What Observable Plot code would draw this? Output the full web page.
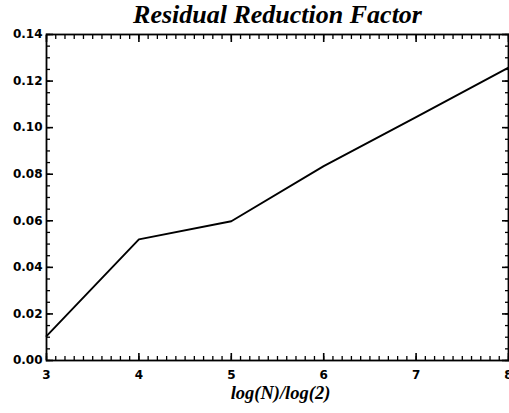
<!DOCTYPE html>
<html>
<head>
<meta charset="utf-8">
<script src="https://cdn.jsdelivr.net/npm/d3@7"></script>
<script src="https://cdn.jsdelivr.net/npm/@observablehq/plot@0.6"></script>
<style>
  html, body { margin: 0; padding: 0; background: #fff; }
</style>
</head>
<body>
<div id="chart"></div>
<script>
const logN = [3, 4, 5, 6, 7, 8];
const factor = [0.0105, 0.0520, 0.0598, 0.0835, 0.1045, 0.1258];
const xMajor = [3, 4, 5, 6, 7, 8];
const yMajor = [0, 0.02, 0.04, 0.06, 0.08, 0.10, 0.12, 0.14];
const xMinor = d3.range(3, 8.0001, 0.1).map(v => +v.toFixed(2));
const yMinor = d3.range(0, 0.14001, 0.005).map(v => +v.toFixed(3));
const title = "Residual Reduction Factor";
const xLabel = "log(N)/log(2)";

const data = logN.map((x, i) => ({x, y: factor[i]}));
const blank = () => "";

const minorLen = 4, majorLen = 7;

const chart = Plot.plot({
  width: 509,
  height: 413,
  marginLeft: 46,
  marginRight: 1,
  marginTop: 34,
  marginBottom: 53,
  style: {fontFamily: "DejaVu Sans", fontSize: "12px", fontWeight: "bold", color: "#000", background: "#fff"},
  x: {domain: [3, 8]},
  y: {domain: [0, 0.14]},
  marks: [
    Plot.frame({stroke: "#000", strokeWidth: 1.8}),
    // minor ticks (inward)
    Plot.axisX(xMinor, {anchor: "bottom", tickSize: minorLen, dy: -minorLen, tickFormat: blank, label: null, strokeWidth: 1.3}),
    Plot.axisX(xMinor, {anchor: "top", tickSize: minorLen, dy: minorLen, tickFormat: blank, label: null, strokeWidth: 1.3}),
    Plot.axisY(yMinor, {anchor: "left", tickSize: minorLen, dx: minorLen, tickFormat: blank, label: null, strokeWidth: 1.3}),
    Plot.axisY(yMinor, {anchor: "right", tickSize: minorLen, dx: -minorLen, tickFormat: blank, label: null, strokeWidth: 1.3}),
    // major ticks (inward)
    Plot.axisX(xMajor, {anchor: "bottom", tickSize: majorLen, dy: -majorLen, tickFormat: blank, label: null, strokeWidth: 1.6}),
    Plot.axisX(xMajor, {anchor: "top", tickSize: majorLen, dy: majorLen, tickFormat: blank, label: null, strokeWidth: 1.6}),
    Plot.axisY(yMajor, {anchor: "left", tickSize: majorLen, dx: majorLen, tickFormat: blank, label: null, strokeWidth: 1.6}),
    Plot.axisY(yMajor, {anchor: "right", tickSize: majorLen, dx: -majorLen, tickFormat: blank, label: null, strokeWidth: 1.6}),
    // tick labels
    Plot.axisX(xMajor, {anchor: "bottom", tickSize: 0, tickPadding: 10, tickFormat: d3.format("d"), label: null, fontWeight: "bold"}),
    Plot.axisY(yMajor, {anchor: "left", tickSize: 0, tickPadding: 4, tickFormat: d3.format(".2f"), label: null, fontWeight: "bold"}),
    Plot.line(data, {x: "x", y: "y", stroke: "#000", strokeWidth: 1.9}),
    Plot.text([title], {frameAnchor: "top", dy: -12, text: d => d, fontFamily: "Liberation Serif", fontStyle: "italic", fontWeight: "bold", fontSize: 26, lineAnchor: "bottom"}),
    Plot.text([xLabel], {frameAnchor: "bottom", dx: 3, dy: 38, text: d => d, fontFamily: "Liberation Serif", fontStyle: "italic", fontWeight: "bold", fontSize: 18.5, lineAnchor: "bottom"})
  ]
});
document.getElementById("chart").appendChild(chart);
</script>
</body>
</html>
